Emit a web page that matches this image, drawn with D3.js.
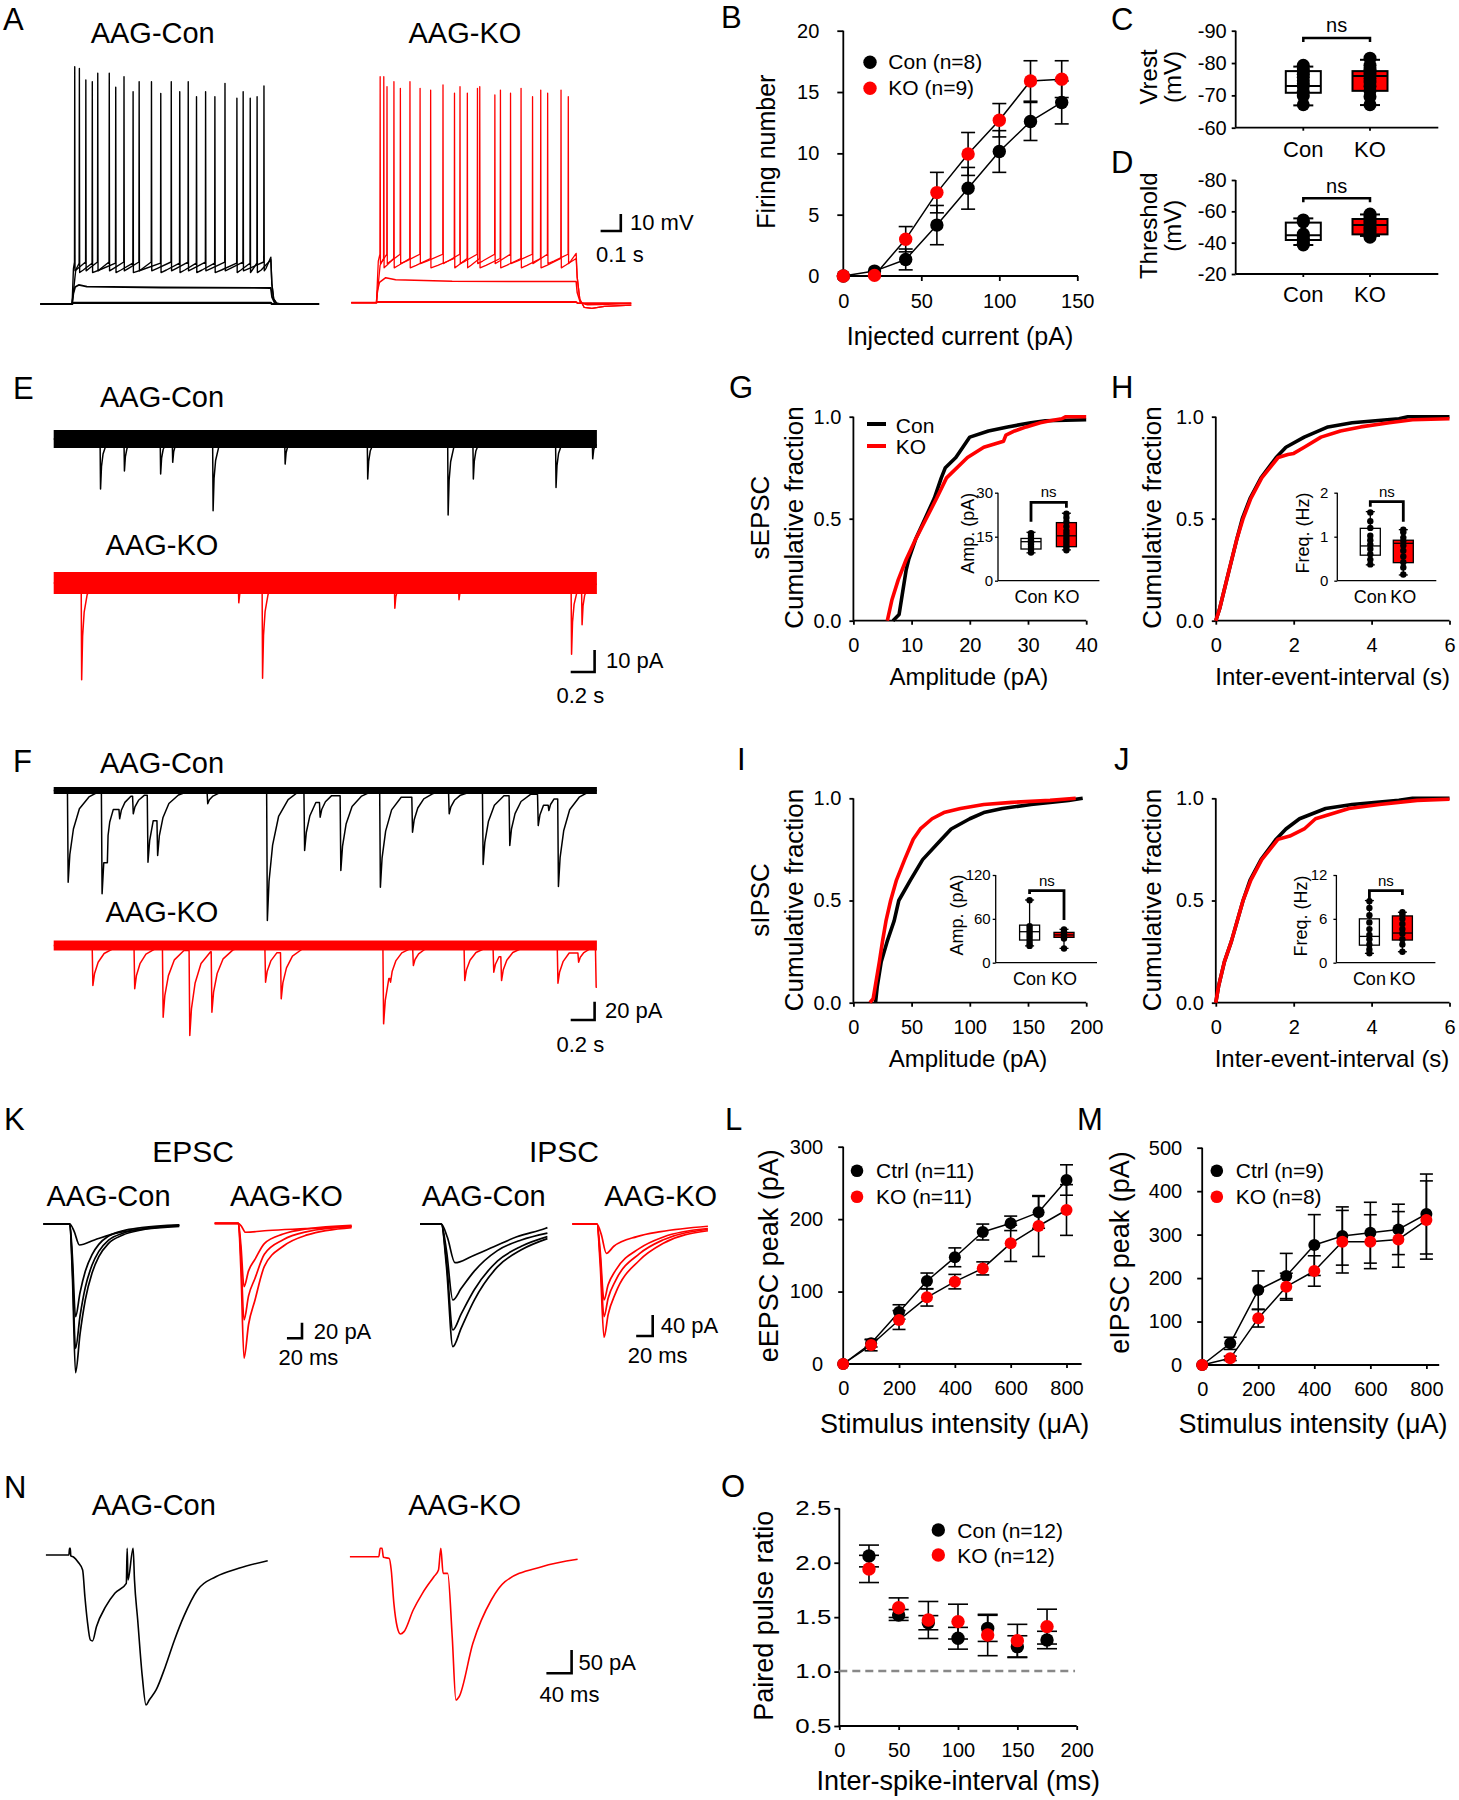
<!DOCTYPE html>
<html><head><meta charset="utf-8">
<script src="https://cdn.jsdelivr.net/npm/d3@7"></script>
<style>body{margin:0;background:#fff}svg{display:block}</style>
</head><body>
<svg id="fig" width="1459" height="1800"></svg>
<script>
// ================= DATA =================
// --- A: action potential traces (ms, mV)
const aConSpikeT1 = [170,225,284,341,414,489,550,648,732,818,914,1004,1107];
const aConSpikeV1 = [69.6,61.8,65.7,65.7,63.7,60.8,60.8,60.8,60.8,54.9,59.8,54.9,58.2];
const aConSpikeT2 = [193,257,373,459,596,690,773,864,973,1039,1073];
const aConSpikeV2 = [68.6,60.8,57.5,54.9,53.9,54.9,51.9,51.9,51,51,51.9];
const aKOSpikeT1 = [143.4,177.3,243.5,341.1,454.6,538.8,625.2,711.4,789,898,972.8,1075];
const aKOSpikeV1 = [62.9,57.1,56.1,56.1,58.1,57.1,56.1,52.2,53.2,51.2,53.2,51.2];
const aKOSpikeT2 = [161.4,211.6,291,393.4,511.5,575.1,636.6,739,841.1,938.6,1039];
const aKOSpikeV2 = [62.9,60,60,55.1,53.2,53.2,57.1,55.1,56.1,55.1,55.1];
const aConSub = [[0,-70],[157,-70],[163,-64],[172,-60],[190,-58.8],[230,-59.8],[600,-60.3],[1141,-60.6],[1147,-66],[1160,-69.4],[1185,-70],[1380,-70]];
const aConRest = [[0,-70],[157,-70],[162,-69.3],[1141,-69.3],[1146,-70],[1380,-70]];
const aKOSub = [[0,-70],[125,-70],[130,-63],[140,-58],[171,-55.3],[220,-56.5],[500,-57.4],[1114,-57.6],[1119,-64],[1135,-70],[1170,-71.2],[1230,-71],[1387,-70.4]];
const aKORest = [[0,-70],[125,-70],[130,-69.6],[1114,-69.6],[1120,-70.2],[1387,-70.2]];
const aConTail = [[5,-58],[14,-67],[30,-69.8],[239,-70]];
const aKOTail = [[5,-55],[18,-68],[40,-72.8],[78,-73.3],[140,-72.2],[273,-71.4]];

// --- B: firing number
const bCurrent = [0,20,40,60,80,100,120,140];
const bCon = [0,0.4,1.35,4.15,7.15,10.15,12.6,14.15];
const bConErr = [0,0,0.85,1.6,1.7,1.7,1.55,1.75];
const bKO = [0,0.05,3.0,6.8,9.95,12.7,15.9,16.05];
const bKOErr = [0,0,1.03,1.65,1.75,1.36,1.65,1.5];

// --- C / D box plots  [low whisker, q1, median, q3, high whisker]
const groups = ["Con","KO"];
const cConBox = [-66.9,-70.8,-72.9,-77.5,-78.9];
const cKOBox = [-67,-71.4,-76,-77.5,-81];
const cConDots = [-79.3,-78.2,-77.4,-76.5,-75.6,-74.5,-73.6,-72.8,-71.2,-69.8,-67.1];
const cKODots = [-81.5,-79.3,-78.1,-77.2,-76.3,-75.2,-74.1,-72.8,-71.4,-69.6,-67.1];
const dConBox = [-38.5,-41.7,-44.7,-52.8,-55.5];
const dKOBox = [-44.3,-45.3,-51.3,-55.1,-58];
const dConDots = [-54.5,-53.2,-45.5,-44,-42.5,-41,-39.5,-38.5];
const dKODots = [-58.3,-57,-55.5,-54,-52.5,-51,-49.5,-48,-46.5,-45,-43.5];

// --- E / F spontaneous events [time s, amplitude pA]
const eConEvents = [[0.388,22.7],[0.588,14.5],[0.891,15.9],[0.992,10.6],[1.33,32.6],[1.933,11.4],[2.624,18.2],[3.297,34.5],[3.508,18.2],[4.2,22],[4.507,9]];
const eKOEvents = [[0.23,44],[1.545,9],[1.744,43.3],[2.851,11.5],[3.388,7.6],[4.33,32.4],[4.418,19]];
const fConEvents = [[0.115,100.2],[0.399,112.9],[0.449,49.2],[0.546,30.9],[0.66,25.5],[0.783,78.4],[0.864,71],[1.283,14.5],[1.782,142],[2.094,65.6],[2.224,29.2],[2.397,87.4],[2.728,105.7],[2.997,45.6],[3.304,25.5],[3.588,80.9],[3.811,60.1],[4.049,38.3],[4.138,21.9],[4.218,104.9]];
const fKOEvents = [[0.322,43.7],[0.672,47.3],[0.91,78.4],[1.133,98.4],[1.318,72.9],[1.767,40.1],[1.898,58.3],[2.755,85.6],[2.813,40.1],[3.004,21.9],[3.434,38.3],[3.677,29.2],[3.742,38.3],[4.214,41.2],[4.387,18.3],[4.534,45.6]];
const epscShape = [[0,0],[0.004,1],[0.012,0.55],[0.025,0.3],[0.05,0.12],[0.1,0.03],[0.16,0]];
const ipscShape = [[0,0],[0.006,1],[0.02,0.7],[0.05,0.42],[0.1,0.2],[0.18,0.07],[0.28,0]];

// --- G-J cumulative distributions [x, fraction]
const gCon = [[6.8,0],[7.85,0.03],[9.07,0.25],[9.5,0.3],[10.7,0.4],[12.3,0.5],[13.9,0.6],[15.1,0.7],[15.8,0.75],[17.6,0.8],[18.8,0.85],[20,0.9],[23.2,0.93],[26.5,0.95],[30.5,0.97],[33,0.98],[40,0.985]];
const gKO = [[5.83,0],[6.6,0.1],[7.7,0.2],[9.07,0.3],[10.7,0.4],[12.5,0.5],[14.3,0.6],[16,0.7],[19.6,0.8],[22.4,0.85],[25.8,0.88],[26.2,0.91],[27.7,0.93],[29.7,0.95],[32.1,0.97],[33.8,0.98],[35.8,0.99],[36.5,1.0],[40,1.0]];
const hCon = [[0,0],[0.1,0.06],[0.28,0.2],[0.54,0.4],[0.68,0.5],[0.88,0.6],[1.16,0.7],[1.55,0.8],[1.8,0.85],[2.27,0.9],[2.88,0.95],[3.5,0.97],[4.7,0.99],[4.93,1.0],[6,1.0]];
const hKO = [[0,0],[0.1,0.06],[0.28,0.2],[0.54,0.4],[0.7,0.5],[0.9,0.6],[1.18,0.7],[1.6,0.8],[1.85,0.815],[2.0,0.82],[2.27,0.85],[2.7,0.9],[3.2,0.93],[3.72,0.95],[4.45,0.97],[5.05,0.985],[6,0.99]];
const iCon = [[19,0],[20.5,0.08],[23.9,0.2],[29,0.3],[35,0.4],[39,0.5],[49,0.6],[59.5,0.7],[75.7,0.8],[84,0.85],[100,0.9],[112,0.93],[128,0.95],[152.6,0.97],[168.8,0.98],[185,0.99],[197,1.0]];
const iKO = [[14.2,0],[17,0.02],[22.3,0.2],[25,0.3],[28,0.4],[32,0.5],[37,0.6],[44,0.7],[51.4,0.8],[57.5,0.85],[67.6,0.9],[77.7,0.93],[92,0.95],[112,0.97],[136,0.98],[169,0.99],[191,1.0]];
const jCon = [[0,0],[0.07,0.08],[0.22,0.2],[0.4,0.3],[0.7,0.5],[0.88,0.6],[1.16,0.7],[1.55,0.8],[1.8,0.85],[2.15,0.9],[2.82,0.95],[3.5,0.97],[4.7,0.99],[5.05,1.0],[6,1.0]];
const jKO = [[0,0],[0.07,0.08],[0.22,0.2],[0.4,0.3],[0.7,0.5],[0.9,0.6],[1.18,0.7],[1.6,0.8],[1.9,0.815],[2.27,0.85],[2.56,0.9],[3.42,0.95],[4.2,0.97],[5.17,0.99],[6,0.995]];
// insets [low, q1, median, q3, high]
const gInConBox = [9.5,10.8,13.3,14.4,16.5], gInKOBox = [10.5,11.6,15.3,19.8,23];
const gInConDots = [9.6,10.5,11.5,12.3,13,13.8,14.5,15.3,16.2], gInKODots = [10.4,11.2,12,13,14,15,16,17,18.5,20,21.5,22.8];
const hInConBox = [0.36,0.58,0.79,1.19,1.57], hInKOBox = [0.13,0.41,0.85,0.92,1.16];
const hInConDots = [0.37,0.48,0.6,0.72,0.82,0.92,1.02,1.2,1.35,1.55], hInKODots = [0.14,0.3,0.42,0.55,0.68,0.8,0.9,0.98,1.1,1.16];
const iInConBox = [23,31,42.4,51.4,85.8], iInKOBox = [19.6,34.7,38,41.5,45.7];
const iInConDots = [23,26,30,34,38,42,46,50,85.5], iInKODots = [19.5,33,35,37,39,41,43,45.5];
const jInConBox = [1.28,2.4,3.6,6.0,8.5], jInKOBox = [1.5,3.1,4.06,6.4,6.9];
const jInConDots = [1.3,1.8,2.5,3.2,3.8,4.6,5.5,6.5,7.5,8.4], jInKODots = [1.5,2.5,3.2,4,4.6,5.3,6,6.6,6.9];

// --- K evoked traces (ms, pA)
const kEpscConAmp = [26.9,118.8,159.4,190.6], kEpscConPeakT = [48.0,42.8,42.8,42.8];
const kEpscConDecay = [[0,1],[6,0.74],[13,0.51],[22,0.33],[31,0.22],[44,0.13],[63,0.074],[88,0.04],[140,0.012]];
const kEpscConDecaySmall = [[0,1],[20,0.76],[52,0.41],[83,0.25],[133,0.13]];
const kEpscKOAmp = [11.5,81.3,124,173], kEpscKOPeakT = [40.9,39,39,39];
const kEpscKODecay = [[0,1],[6,0.75],[14.5,0.57],[27,0.32],[52,0.17],[84,0.086],[143,0.037]];
const kEpscKODecaySmall = [[0,1],[30,0.8],[80,0.6],[140,0.35]];
const kIpscConAmp = [73.7,144.8,201.9,233.7], kIpscConPeakT = [42.4,39.8,39.8,39.8];
const kIpscConDecay = [[0,1],[10,0.85],[26,0.62],[54,0.35],[83,0.21],[117,0.14]];
const kIpscConDecaySmall = [[0,1],[20,0.84],[47,0.59],[75,0.33],[110,0.11]];
const kIpscKOAmp = [55.8,144.8,176.6,215.8], kIpscKOPeakT = [41.2,38.3,38.3,38.3];
const kIpscKODecay = [[0,1],[5,0.8],[14,0.61],[43,0.32],[72,0.17],[129,0.07]];
const kIpscKODecaySmall = [[0,1],[9,0.76],[37,0.43],[66,0.26],[123,0.09]];

// --- L, M input-output
const stim = [0,100,200,300,400,500,600,700,800];
const lCtrl = [0,28.5,71.8,114.6,147.3,182.2,194.2,209.4,254], lCtrlErr = [0,5,10,11,13,11,10,22,21];
const lKO = [0,26.2,60.7,92,113.7,132,166.6,190.5,212.6], lKOErr = [0,8,13,12,10,9,25,42,35];
const mCtrl = [0,49.8,172.5,204.8,276,296.8,304.4,312,347.4], mCtrlErr = [0,14,44,52,70,67,70,58,92];
const mKO = [0,15.3,107.4,180.2,216.3,283.7,283.7,289,333.6], mKOErr = [0,5,20,31,35,72,62,64,90];

// --- N paired-pulse traces (ms, pA)
const nCon = [[0,0],[36.5,0],[37.5,14.3],[38.7,14.3],[39.5,-2.1],[43.8,-4.3],[51,-15],[58.3,-32.1],[61.9,-89.3],[65.6,-139.2],[70.6,-182],[74,-184],[80.2,-153.5],[94.8,-110.7],[109.4,-82],[127.6,-60.6],[129,14.3],[130.3,-53.5],[138.4,14.3],[140.6,-53.5],[145.7,-139.2],[153,-260.6],[158.9,-321.2],[164,-310.5],[174.9,-289],[189.5,-239.2],[204.1,-182],[218.7,-132.1],[240.5,-75],[269.7,-46.5],[306,-28.5],[352,-12.2]];
const nKO = [[0,0],[45.9,0],[48.1,18],[51,18],[53.2,-1.3],[62.5,-3.6],[65.6,-28.5],[69.8,-99.8],[75,-150],[80.2,-165.5],[85.9,-160.5],[100.5,-114.1],[115.1,-78.4],[133.3,-42.8],[140.6,-28.5],[144.3,18],[148,-35.7],[155.2,-35.7],[162.4,-171.3],[168.3,-306.9],[173.3,-299.8],[195.2,-185.4],[224.4,-92.7],[246.2,-53.5],[304.6,-21.4],[361.4,-5.6]];

// --- O paired pulse ratio
const oISI = [25,50,75,100,125,150,175];
const oCon = [2.062,1.52,1.449,1.306,1.397,1.229,1.29], oConErr = [0.1,0.05,0.065,0.1,0.12,0.1,0.08];
const oKO = [1.943,1.587,1.474,1.459,1.336,1.284,1.413], oKOErr = [0.125,0.09,0.17,0.16,0.19,0.15,0.16];

// ================= DRAWING =================
const RED = "#ff0000", K = "#000";
const svg = d3.select("#fig").attr("font-family","'Liberation Sans', Arial, Helvetica, sans-serif");

function line(g,x1,y1,x2,y2,sw=1.8,col=K){return g.append("line").attr("x1",x1).attr("y1",y1).attr("x2",x2).attr("y2",y2).attr("stroke",col).attr("stroke-width",sw);}
function txt(g,x,y,s,fs,anchor="start",col=K){return g.append("text").attr("x",x).attr("y",y).attr("font-size",fs).attr("text-anchor",anchor).attr("fill",col).text(s);}
function vtxt(g,x,y,s,fs){return g.append("text").attr("transform",`translate(${x},${y}) rotate(-90)`).attr("font-size",fs).attr("text-anchor","middle").attr("fill",K).text(s);}
function styleAx(a,fs,sw){
  a.attr("font-family",null).attr("font-size",null);
  a.select(".domain").remove();
  a.selectAll(".tick line").attr("stroke",K).attr("stroke-width",sw);
  a.selectAll(".tick text").attr("font-size",fs).attr("fill",K);
}
function axL(g,sc,x,ticks,fmt,fs,tk,pad,sw=1.8){
  const a=g.append("g").attr("transform",`translate(${x},0)`)
    .call(d3.axisLeft(sc).tickValues(ticks).tickFormat(fmt).tickSize(tk).tickSizeOuter(0).tickPadding(pad));
  styleAx(a,fs,sw); return a;
}
function axB(g,sc,y,ticks,fmt,fs,tk,baseOff,sw=1.8){
  const pad = baseOff - tk - 0.71*fs;
  const a=g.append("g").attr("transform",`translate(0,${y})`)
    .call(d3.axisBottom(sc).tickValues(ticks).tickFormat(fmt).tickSize(tk).tickSizeOuter(0).tickPadding(pad));
  styleAx(a,fs,sw); return a;
}
const plain = d => String(d);
function path(g,pts,xs,ys,col,sw,curve){
  const gen=d3.line().x(d=>xs(d[0])).y(d=>ys(d[1]));
  if(curve) gen.curve(curve);
  return g.append("path").datum(pts).attr("d",gen)
    .attr("fill","none").attr("stroke",col).attr("stroke-width",sw).attr("stroke-linejoin","round");
}
function errbars(g,xs,ys,xv,yv,ev,capW,sw=1.6){
  xv.forEach((x,i)=>{ if(!ev[i]) return;
    const cx=xs(x), y1=ys(yv[i]-ev[i]), y2=ys(yv[i]+ev[i]);
    line(g,cx,y1,cx,y2,sw); line(g,cx-capW/2,y1,cx+capW/2,y1,sw); line(g,cx-capW/2,y2,cx+capW/2,y2,sw);});
}
function dots(g,xs,ys,xv,yv,r,col){
  g.append("g").selectAll("circle").data(xv.map((x,i)=>[x,yv[i]])).enter().append("circle")
    .attr("cx",d=>xs(d[0])).attr("cy",d=>ys(d[1])).attr("r",r).attr("fill",col);
}
function conn(g,xs,ys,xv,yv,sw=1.5){ return path(g,xv.map((x,i)=>[x,yv[i]]),xs,ys,K,sw); }
function box(g,cx,w,ys,st,fill,capW,sw){
  line(g,cx,ys(st[0]),cx,ys(st[4]),sw);
  line(g,cx-capW/2,ys(st[0]),cx+capW/2,ys(st[0]),sw);
  line(g,cx-capW/2,ys(st[4]),cx+capW/2,ys(st[4]),sw);
  const y1=ys(st[1]), y2=ys(st[3]);
  g.append("rect").attr("x",cx-w/2).attr("y",Math.min(y1,y2)).attr("width",w).attr("height",Math.abs(y1-y2))
    .attr("fill",fill).attr("stroke",K).attr("stroke-width",sw);
  line(g,cx-w/2,ys(st[2]),cx+w/2,ys(st[2]),sw);
}
function bracket(g,x1,x2,y,leg1,leg2,sw){
  g.append("path").attr("d",`M${x1},${leg1}V${y}H${x2}V${leg2}`).attr("fill","none").attr("stroke",K).attr("stroke-width",sw);
}
function scaleBar(g,xr,yb,w,h,sw=2.6){
  g.append("path").attr("d",`M${xr-w},${yb}H${xr}V${yb-h}`).attr("fill","none").attr("stroke",K).attr("stroke-width",sw);
}

// panel letters
[["A",3,30],["B",721,28],["C",1111,30],["D",1111,173],["E",13,399],["F",13,772],["G",729,398],["H",1111,398],
 ["I",737,770],["J",1114,770],["K",4,1130],["L",725,1130],["M",1077,1130],["N",4,1498],["O",721,1497]]
 .forEach(([s,x,y])=>txt(svg,x,y,s,31));

// ---------- A ----------
const gA = svg.append("g");
txt(gA,152.7,43.3,"AAG-Con",29,"middle");
txt(gA,464.9,43.3,"AAG-KO",29,"middle");
const aXc = d3.scaleLinear().domain([0,1380]).range([40.4,319.1]);
const aXk = d3.scaleLinear().domain([0,1387]).range([351.2,631.3]);
const aYc = d3.scaleLinear().domain([-70,0]).range([304,185]);
const aYk = d3.scaleLinear().domain([-70,0]).range([302.7,183.7]);
function spikeTrace(times,peaks,onset,offset,vThr,vAhp,vEnd,tail,T){
  const pts=[[0,-70],[onset,-70],[onset+(times[0]-onset)*0.5,vThr-4]];
  times.forEach((s,k)=>{
    const nxt = k+1<times.length ? times[k+1] : offset;
    pts.push([s-1.2,vThr],[s,peaks[k]],[s+1.4,vAhp-1.5],[s+(nxt-s)*0.3,vAhp]);
  });
  pts.push([offset,vEnd]);
  tail.forEach(([dt,v])=>pts.push([offset+dt,v]));
  return pts.filter(p=>p[0]<=T);
}
path(gA,aConRest,aXc,aYc,K,2.2);
path(gA,aConSub,aXc,aYc,K,1.8);
path(gA,spikeTrace(aConSpikeT2,aConSpikeV2,157,1141,-46,-50,-44,aConTail,1380),aXc,aYc,K,1.4);
path(gA,spikeTrace(aConSpikeT1,aConSpikeV1,157,1141,-45.3,-49,-42.5,aConTail,1380),aXc,aYc,K,1.4);
path(gA,aKORest,aXk,aYk,RED,1.8);
path(gA,aKOSub,aXk,aYk,RED,1.5);
path(gA,spikeTrace(aKOSpikeT2,aKOSpikeV2,125,1114,-44,-48,-44,aKOTail,1387),aXk,aYk,RED,1.3);
path(gA,spikeTrace(aKOSpikeT1,aKOSpikeV1,125,1114,-41.5,-45.5,-41,aKOTail,1387),aXk,aYk,RED,1.3);
scaleBar(gA,620.8,231,aXk(100)-aXk(0),aYk(-70)-aYk(-60));
txt(gA,630,230,"10 mV",22); txt(gA,596,262,"0.1 s",22);

// ---------- B ----------
const gB = svg.append("g");
const bX = d3.scaleLinear().domain([0,150]).range([843.3,1077.3]);
const bY = d3.scaleLinear().domain([0,20]).range([276,30.7]);
line(gB,843.3,276,843.3,30.7); line(gB,843.3,276,1078,276);
axL(gB,bY,843.3,[0,5,10,15,20],plain,20,6,18);
axB(gB,bX,276,[0,50,100,150],plain,20,5,32.3);
txt(gB,960,345,"Injected current (pA)",25,"middle");
vtxt(gB,775,151.7,"Firing number",25);
conn(gB,bX,bY,bCurrent,bCon); conn(gB,bX,bY,bCurrent,bKO);
errbars(gB,bX,bY,bCurrent,bCon,bConErr,14); errbars(gB,bX,bY,bCurrent,bKO,bKOErr,14);
dots(gB,bX,bY,bCurrent,bCon,6.7,K); dots(gB,bX,bY,bCurrent,bKO,6.7,RED);
gB.append("circle").attr("cx",870).attr("cy",62.3).attr("r",6.7).attr("fill",K);
gB.append("circle").attr("cx",870).attr("cy",88.3).attr("r",6.7).attr("fill",RED);
txt(gB,888.3,69.3,"Con (n=8)",21); txt(gB,888.3,95.3,"KO (n=9)",21);

// ---------- C / D ----------
function boxPanel(g,ys,yTop,yBot,ticks,conBox,koBox,conDots,koDots,labBase,title,titleY,brY,nsY){
  const xs = d3.scalePoint().domain(groups).range([1303.3,1370]);
  line(g,1235.7,yBot,1235.7,yTop); line(g,1235.7,yBot,1438.3,yBot);
  axL(g,ys,1235.7,ticks,plain,20,4,5);
  groups.forEach(c=>{ line(g,xs(c),yBot,xs(c),yBot+3); txt(g,xs(c),labBase,c,22,"middle"); });
  box(g,xs("Con"),35,ys,conBox,"#fff",20,2);
  box(g,xs("KO"),35,ys,koBox,RED,20,2);
  conDots.forEach(v=>g.append("circle").attr("cx",xs("Con")).attr("cy",ys(v)).attr("r",6.5).attr("fill",K));
  koDots.forEach(v=>g.append("circle").attr("cx",xs("KO")).attr("cy",ys(v)).attr("r",6.5).attr("fill",K));
  bracket(g,xs("Con"),xs("KO"),brY,brY+4,brY+4,2.5);
  txt(g,(xs("Con")+xs("KO"))/2,nsY,"ns",20,"middle");
  vtxt(g,1157,titleY,title,24); vtxt(g,1181,titleY,"(mV)",24);
}
const gC = svg.append("g");
boxPanel(gC,d3.scaleLinear().domain([-60,-90]).range([127.7,30.7]),30.7,127.7,[-90,-80,-70,-60],
  cConBox,cKOBox,cConDots,cKODots,156.7,"Vrest",77,38,32);
const gD = svg.append("g");
boxPanel(gD,d3.scaleLinear().domain([-20,-80]).range([274,180]),180,274,[-80,-60,-40,-20],
  dConBox,dKOBox,dConDots,dKODots,301.7,"Threshold",225.7,198.3,193);

// ---------- E / F ----------
function eventTrace(events,T,shape){
  const ev=events.slice().sort((a,b)=>a[0]-b[0]);
  const pts=[[0,0]]; let last=0;
  ev.forEach((e,i)=>{
    const t0=e[0], a=e[1], nxt=i+1<ev.length?ev[i+1][0]:T;
    pts.push([t0,last]);
    for(const [dt,f] of shape){ if(dt===0) continue; if(t0+dt>=nxt) break; last=a*f; pts.push([t0+dt,last]); }
  });
  pts.push([T,last]); return pts;
}
function noisyTrace(g,xs,ys,events,T,shape,col,band){
  line(g,xs(0),ys(0),xs(T),ys(0),band,col);
  path(g,eventTrace(events,T,shape),xs,ys,col,1.5);
}
const gE = svg.append("g");
txt(gE,100,407,"AAG-Con",29); txt(gE,105.6,555,"AAG-KO",29);
const efX = d3.scaleLinear().domain([0,4.546]).range([53.7,596.9]);
noisyTrace(gE,efX,d3.scaleLinear().domain([0,10]).range([439,461]),eConEvents,4.546,epscShape,K,18);
noisyTrace(gE,efX,d3.scaleLinear().domain([0,10]).range([583,605]),eKOEvents,4.546,epscShape,RED,22);
scaleBar(gE,594.6,672,efX(0.2)-efX(0),22);
txt(gE,606,668,"10 pA",22); txt(gE,556.5,703,"0.2 s",22);

const gF = svg.append("g");
txt(gF,100,773.3,"AAG-Con",29); txt(gF,105.6,921.7,"AAG-KO",29);
noisyTrace(gF,efX,d3.scaleLinear().domain([0,20]).range([790.5,808.8]),fConEvents,4.546,ipscShape,K,7);
noisyTrace(gF,efX,d3.scaleLinear().domain([0,20]).range([945.5,963.8]),fKOEvents,4.546,ipscShape,RED,10);
scaleBar(gF,594.6,1020,efX(0.2)-efX(0),18.3);
txt(gF,605,1018,"20 pA",22); txt(gF,556.5,1051.7,"0.2 s",22);

// ---------- G-J ----------
function cdfPanel(g,cfg){
  const xs=d3.scaleLinear().domain(cfg.dom).range([cfg.ax,cfg.xe]);
  const ys=d3.scaleLinear().domain([0,1]).range([cfg.yb,cfg.yt]);
  line(g,cfg.ax,cfg.yb,cfg.ax,cfg.yt,1.8); line(g,cfg.ax,cfg.yb,cfg.xe,cfg.yb,1.8);
  axL(g,ys,cfg.ax,[0,0.5,1],d3.format(".1f"),20,4,8);
  axB(g,xs,cfg.yb,cfg.ticks,plain,20,4,31);
  path(g,cfg.con,xs,ys,K,3.6);
  path(g,cfg.ko,xs,ys,RED,3.6);
  txt(g,cfg.xtx,cfg.xty,cfg.xtitle,24,"middle");
  vtxt(g,cfg.ytx,cfg.yty,"Cumulative fraction",26);
  if(cfg.pre) vtxt(g,cfg.ax-84,cfg.yty,cfg.pre,26);
}
function inset(g,c){
  const ys=d3.scaleLinear().domain([0,c.max]).range([c.yb,c.yt]);
  const xs=d3.scalePoint().domain(groups).range([c.xc,c.xk]);
  line(g,c.ax,c.yb,c.ax,c.yt,1.3); line(g,c.ax,c.yb,c.xe,c.yb,1.3);
  axL(g,ys,c.ax,c.ticks,plain,15,3,c.pad,1.3);
  groups.forEach(k=>txt(g,xs(k),c.lb,k,18,"middle"));
  vtxt(g,c.tx,c.ty,c.title,18);
  box(g,xs("Con"),20,ys,c.conBox,"#fff",9,1.3);
  box(g,xs("KO"),20,ys,c.koBox,RED,9,1.3);
  c.conDots.forEach(v=>g.append("circle").attr("cx",xs("Con")).attr("cy",ys(v)).attr("r",3.2).attr("fill",K));
  c.koDots.forEach(v=>g.append("circle").attr("cx",xs("KO")).attr("cy",ys(v)).attr("r",3.2).attr("fill",K));
  bracket(g,xs("Con"),xs("KO"),c.by,c.lc,c.lk,2.8);
  txt(g,(xs("Con")+xs("KO"))/2,c.by-5,"ns",15,"middle");
}
const gG = svg.append("g");
cdfPanel(gG,{ax:853.4,xe:1086.2,yt:416.7,yb:620.7,dom:[0,40],ticks:[0,10,20,30,40],con:gCon,ko:gKO,
  xtitle:"Amplitude (pA)",xtx:968.8,xty:685,ytx:802.5,yty:517.5,pre:"sEPSC"});
line(gG,867,424,886,424,4,K); line(gG,867,446,886,446,4,RED);
txt(gG,895.8,433,"Con",21); txt(gG,895.8,454,"KO",21);
inset(gG,{ax:998,xe:1099.4,yt:492.7,yb:580.7,xc:1031,xk:1066.4,max:30,ticks:[0,15,30],pad:2,lb:603,
  tx:974,ty:533.3,title:"Amp. (pA)",conBox:gInConBox,koBox:gInKOBox,conDots:gInConDots,koDots:gInKODots,by:502.3,lc:521.7,lk:507.7});
const gH = svg.append("g");
cdfPanel(gH,{ax:1215.8,xe:1449.5,yt:416.7,yb:620.7,dom:[0,6],ticks:[0,2,4,6],con:hCon,ko:hKO,
  xtitle:"Inter-event-interval (s)",xtx:1332.6,xty:685,ytx:1160.6,yty:517.5});
inset(gH,{ax:1337.3,xe:1436.3,yt:492.7,yb:580.7,xc:1370.3,xk:1403.3,max:2,ticks:[0,1,2],pad:6,lb:603,
  tx:1309,ty:533,title:"Freq. (Hz)",conBox:hInConBox,koBox:hInKOBox,conDots:hInConDots,koDots:hInKODots,by:501.7,lc:506.7,lk:521.7});
const gI = svg.append("g");
cdfPanel(gI,{ax:853.4,xe:1086.2,yt:798.3,yb:1002.7,dom:[0,200],ticks:[0,50,100,150,200],con:iCon,ko:iKO,
  xtitle:"Amplitude (pA)",xtx:968,xty:1066.7,ytx:802.5,yty:900,pre:"sIPSC"});
inset(gI,{ax:995.7,xe:1097,yt:875,yb:962.7,xc:1029.6,xk:1064,max:120,ticks:[0,60,120],pad:2,lb:985,
  tx:963,ty:915,title:"Amp. (pA)",conBox:iInConBox,koBox:iInKOBox,conDots:iInConDots,koDots:iInKODots,by:890.7,lc:894,lk:920});
const gJ = svg.append("g");
cdfPanel(gJ,{ax:1215.8,xe:1449.5,yt:798.3,yb:1002.7,dom:[0,6],ticks:[0,2,4,6],con:jCon,ko:jKO,
  xtitle:"Inter-event-interval (s)",xtx:1332,xty:1066.7,ytx:1160.6,yty:900});
inset(gJ,{ax:1336.4,xe:1435.4,yt:875,yb:962.7,xc:1369.4,xk:1402.4,max:12,ticks:[0,6,12],pad:6,lb:985,
  tx:1307,ty:916,title:"Freq. (Hz)",conBox:jInConBox,koBox:jInKOBox,conDots:jInConDots,koDots:jInKODots,by:890.7,lc:900,lk:895});

// ---------- K ----------
const gK = svg.append("g");
txt(gK,193,1161.7,"EPSC",30,"middle"); txt(gK,564,1161.7,"IPSC",30,"middle");
txt(gK,108.5,1206,"AAG-Con",29,"middle"); txt(gK,286.5,1206,"AAG-KO",29,"middle");
txt(gK,483.7,1206,"AAG-Con",29,"middle"); txt(gK,660.7,1206,"AAG-KO",29,"middle");
function kTrace(onset,pk,a,prof,T){
  const pts=[[0,0],[onset,0],[onset+(pk-onset)*0.45,a*0.35],[pk,a]];
  prof.forEach(([dt,f])=>{ if(dt>0 && pk+dt<T) pts.push([pk+dt,a*f]); });
  pts.push([T,a*prof[prof.length-1][1]*0.85]);
  return pts;
}
function kGroup(g,xs,ys,onset,T,peaks,amps,prof,profSmall,col){
  amps.forEach((a,i)=>path(g,kTrace(onset,peaks[i],a,i===0?profSmall:prof,T),xs,ys,col,1.7,d3.curveMonotoneX));
}
const kEcX=d3.scaleLinear().domain([0,181]).range([43.4,179.3]), kEcY=d3.scaleLinear().domain([0,20]).range([1224,1239.6]);
const kEkX=d3.scaleLinear().domain([0,182]).range([214.7,351.6]), kEkY=d3.scaleLinear().domain([0,20]).range([1223.3,1238.9]);
const kIcX=d3.scaleLinear().domain([0,154.4]).range([420,547.4]), kIcY=d3.scaleLinear().domain([0,40]).range([1224,1245]);
const kIkX=d3.scaleLinear().domain([0,164.2]).range([572.4,707.9]), kIkY=d3.scaleLinear().domain([0,40]).range([1224,1245]);
kGroup(gK,kEcX,kEcY,35.2,181,kEpscConPeakT,kEpscConAmp,kEpscConDecay,kEpscConDecaySmall,K);
kGroup(gK,kEkX,kEkY,31.5,182,kEpscKOPeakT,kEpscKOAmp,kEpscKODecay,kEpscKODecaySmall,RED);
kGroup(gK,kIcX,kIcY,25.8,154.4,kIpscConPeakT,kIpscConAmp,kIpscConDecay,kIpscConDecaySmall,K);
kGroup(gK,kIkX,kIkY,29.8,164.2,kIpscKOPeakT,kIpscKOAmp,kIpscKODecay,kIpscKODecaySmall,RED);
scaleBar(gK,302,1338.3,kEkX(20)-kEkX(0),kEkY(20)-kEkY(0));
txt(gK,313.8,1339.3,"20 pA",22); txt(gK,278.4,1365,"20 ms",22);
scaleBar(gK,652.7,1336,kIkX(20)-kIkX(0),kIkY(40)-kIkY(0));
txt(gK,660.7,1333.3,"40 pA",22); txt(gK,627.7,1363.3,"20 ms",22);

// ---------- L / M ----------
function ioPanel(g,c){
  const xs=d3.scaleLinear().domain([0,800]).range([c.x0,c.x8]);
  const ys=d3.scaleLinear().domain([0,c.max]).range([c.yb,c.yt]);
  line(g,c.x0,c.yb,c.x0,c.yt); line(g,c.x0,c.yb,c.xe,c.yb);
  axL(g,ys,c.x0,d3.range(0,c.max+1,100),plain,20,5,15);
  axB(g,xs,c.yb,[0,200,400,600,800],plain,20,4,31);
  txt(g,c.xtx,1433.3,"Stimulus intensity (\u03bcA)",27,"middle");
  vtxt(g,c.ytx,c.yty,c.ytitle,27);
  conn(g,xs,ys,stim,c.ctrl); conn(g,xs,ys,stim,c.ko);
  errbars(g,xs,ys,stim,c.ctrl,c.ctrlErr,13); errbars(g,xs,ys,stim,c.ko,c.koErr,13);
  dots(g,xs,ys,stim,c.ctrl,6,K); dots(g,xs,ys,stim,c.ko,6,RED);
  g.append("circle").attr("cx",c.lx).attr("cy",1170.7).attr("r",6.3).attr("fill",K);
  g.append("circle").attr("cx",c.lx).attr("cy",1196.7).attr("r",6.3).attr("fill",RED);
  txt(g,c.lx+19,1178.3,c.l1,21); txt(g,c.lx+19,1204.3,c.l2,21);
}
ioPanel(svg.append("g"),{x0:843.2,x8:1066.5,xe:1081.6,yb:1364,yt:1146.7,max:300,ctrl:lCtrl,ctrlErr:lCtrlErr,ko:lKO,koErr:lKOErr,
  xtx:954.6,ytx:778,yty:1255.7,ytitle:"eEPSC peak (pA)",lx:857,l1:"Ctrl (n=11)",l2:"KO (n=11)"});
ioPanel(svg.append("g"),{x0:1202.2,x8:1426.4,xe:1439.2,yb:1365,yt:1147.7,max:500,ctrl:mCtrl,ctrlErr:mCtrlErr,ko:mKO,koErr:mKOErr,
  xtx:1313,ytx:1129,yty:1252.5,ytitle:"eIPSC peak (pA)",lx:1216.8,l1:"Ctrl (n=9)",l2:"KO (n=8)"});

// ---------- N ----------
const gN = svg.append("g");
txt(gN,153.8,1515,"AAG-Con",29,"middle"); txt(gN,464.6,1515,"AAG-KO",29,"middle");
const nXc=d3.scaleLinear().domain([0,352]).range([45.9,267.7]), nYc=d3.scaleLinear().domain([0,-50]).range([1555,1578.35]);
const nXk=d3.scaleLinear().domain([0,361.4]).range([349.9,577.6]), nYk=d3.scaleLinear().domain([0,-50]).range([1556.7,1580.05]);
path(gN,nCon,nXc,nYc,K,1.6,d3.curveMonotoneX); path(gN,nKO,nXk,nYk,RED,1.6,d3.curveMonotoneX);
scaleBar(gN,571.6,1673.3,nXk(40)-nXk(0),nYk(-50)-nYk(0));
txt(gN,578.5,1670,"50 pA",22); txt(gN,539.5,1701.7,"40 ms",22);

// ---------- O ----------
const gO = svg.append("g");
const oX=d3.scaleLinear().domain([0,200]).range([839.3,1076.7]);
const oY=d3.scaleLinear().domain([0.5,2.5]).range([1726,1508.3]);
line(gO,839.3,1726,839.3,1508.3); line(gO,839.3,1726,1076.7,1726);
const oAx = axL(gO,oY,839.3,[0.5,1,1.5,2,2.5],d3.format(".1f"),20,5,3);
oAx.selectAll(".tick text").attr("textLength",36).attr("lengthAdjust","spacingAndGlyphs");
axB(gO,oX,1726,[0,50,100,150,200],plain,20,4,31);
gO.append("line").attr("x1",oX(0)).attr("x2",oX(198.6)).attr("y1",oY(1.005)).attr("y2",oY(1.005))
  .attr("stroke","#888").attr("stroke-width",2.6).attr("stroke-dasharray","8,5");
errbars(gO,oX,oY,oISI,oCon,oConErr,20); errbars(gO,oX,oY,oISI,oKO,oKOErr,20);
dots(gO,oX,oY,oISI,oCon,6.7,K); dots(gO,oX,oY,oISI,oKO,6.7,RED);
gO.append("circle").attr("cx",938.3).attr("cy",1530).attr("r",6.7).attr("fill",K);
gO.append("circle").attr("cx",938.3).attr("cy",1555).attr("r",6.7).attr("fill",RED);
txt(gO,957.3,1537.7,"Con (n=12)",21); txt(gO,957.3,1562.7,"KO (n=12)",21);
txt(gO,958.3,1790,"Inter-spike-interval (ms)",27,"middle");
vtxt(gO,773.3,1615.8,"Paired pulse ratio",27);
</script>
</body></html>
